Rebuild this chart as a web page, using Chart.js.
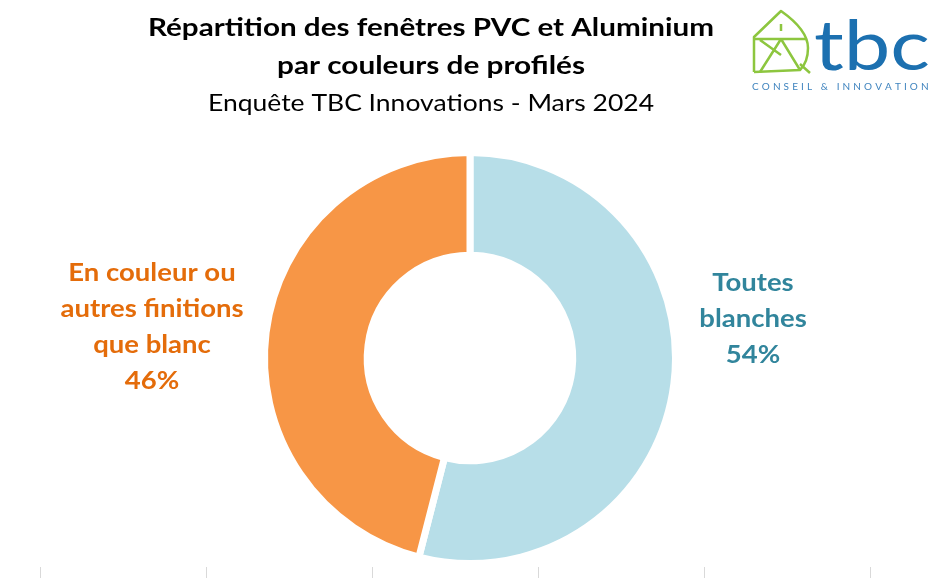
<!DOCTYPE html>
<html>
<head>
<meta charset="utf-8">
<script src="https://cdn.jsdelivr.net/npm/chart.js@4"></script>
<style>
  html, body { margin: 0; padding: 0; background: #fff; }
  #wrap { width: 949px; height: 578px; position: relative; }
</style>
</head>
<body>
<div id="wrap"><canvas id="graph" width="949" height="578"></canvas></div>
<script>
// DATA
let categories = ['Toutes blanches', 'En couleur ou autres finitions que blanc'];
let values = [54, 46];
let sliceColors = ['#B7DEE8', '#F79646'];
let labelColors = ['#31859C', '#E46C0A'];
let labelLines = [['Toutes', 'blanches'], ['En couleur ou', 'autres finitions', 'que blanc']];
let titleLines = ['Répartition des fenêtres PVC et Aluminium', 'par couleurs de profilés'];
let subTitle = 'Enquête TBC Innovations - Mars 2024';

const FONT = 'Lato, "Open Sans", sans-serif';

// text fitted to a width (Calibri is not there)
function fitText(ctx, txt, x, y, weight, size, width){
    ctx.font = weight + ' ' + size + 'px ' + FONT;
    let w = ctx.measureText(txt).width;
    if (width && w > 0) {
        ctx.save();
        ctx.translate(x, y);
        ctx.scale(width / w, 1);
        ctx.fillText(txt, 0, 0);
        ctx.restore();
    } else {
        ctx.fillText(txt, x, y);
    }
}
// stretched text
function wideText(ctx, txt, x, y, k){
    ctx.save();
    ctx.translate(x, y);
    ctx.scale(k, 1);
    ctx.fillText(txt, 0, 0);
    ctx.restore();
}

// TITLE + LOGO + TICKS
let decoPlugin = {
    id: 'deco',
    afterDraw(chart){
        let ctx = chart.ctx;
        ctx.save();
        ctx.textAlign = 'center';
        ctx.textBaseline = 'alphabetic';
        ctx.fillStyle = '#000';
        fitText(ctx, titleLines[0], 431, 36, 'bold', 25, 566);
        fitText(ctx, titleLines[1], 431, 74, 'bold', 25, 308);
        fitText(ctx, subTitle, 431, 111, 'normal', 24, 446);

        // slice labels
        let arcs = chart.getDatasetMeta(0).data;
        let cx = arcs[0].x;
        let pos = [{x: cx + 283, y: 283}, {x: cx - 318, y: 273}];
        labelLines.forEach((lines, i) => {
            let all = lines.concat([values[i] + '%']);
            ctx.fillStyle = labelColors[i];
            ctx.font = 'bold 25px ' + FONT;
            ctx.textBaseline = 'middle';
            all.forEach((t, j) => {
                wideText(ctx, t, pos[i].x, pos[i].y + j * 36, 1.1);
            });
        });

        // bottom ticks
        ctx.strokeStyle = '#d9d9d9';
        ctx.lineWidth = 1;
        for (let i = 0; i < 6; i++) {
            let x = 40.5 + i * 166;
            ctx.beginPath();
            ctx.moveTo(x, 567);
            ctx.lineTo(x, 578);
            ctx.stroke();
        }

        // logo house
        ctx.strokeStyle = '#8DC63F';
        ctx.lineWidth = 2.5;
        ctx.lineJoin = 'round';
        ctx.beginPath();
        ctx.moveTo(754, 72);
        ctx.lineTo(754, 37);
        ctx.lineTo(781, 11);
        ctx.quadraticCurveTo(808, 30, 808, 48);
        ctx.quadraticCurveTo(808, 62, 800, 70);
        ctx.lineTo(754, 72);
        ctx.stroke();
        ctx.beginPath();
        ctx.moveTo(754, 39); ctx.lineTo(807, 39);
        ctx.moveTo(781, 24); ctx.lineTo(781, 31);
        ctx.moveTo(781, 39); ctx.lineTo(760, 72);
        ctx.moveTo(781, 39); ctx.lineTo(800, 70);
        ctx.moveTo(760, 40); ctx.lineTo(781, 55);
        ctx.moveTo(800, 64); ctx.lineTo(810, 73);
        ctx.stroke();

        // logo text
        ctx.fillStyle = '#1C70B0';
        ctx.textAlign = 'left';
        ctx.textBaseline = 'alphabetic';
        ctx.save();
        ctx.font = 'normal 70px ' + FONT;
        let tw = ctx.measureText('tbc').width;
        ctx.translate(814, 70);
        ctx.scale(116 / tw, 1);
        ctx.fillText('tbc', 0, 0);
        ctx.restore();
        ctx.fillStyle = '#3E83BE';
        ctx.font = 'normal 10px ' + FONT;
        let s = 'CONSEIL & INNOVATION', x = 752;
        for (let ch of s) {
            ctx.fillText(ch, x, 90);
            x += ctx.measureText(ch).width + 3.1;
        }
        ctx.restore();
    }
};

let ctx2 = document.getElementById('graph').getContext('2d');
let graph = new Chart(ctx2, {
    type: 'doughnut',
    data: {
        labels: categories,
        datasets: [{
            data: values,
            backgroundColor: sliceColors,
            borderColor: '#ffffff',
            borderWidth: 7,
            hoverOffset: 0
        }]
    },
    options: {
        responsive: false,
        animation: false,
        cutout: '50%',
        layout: { padding: { top: 148, bottom: 10, left: 261, right: 270 } },
        plugins: {
            legend: { display: false },
            tooltip: { enabled: false },
            title: { display: false }
        }
    },
    plugins: [decoPlugin]
});
</script>
</body>
</html>
